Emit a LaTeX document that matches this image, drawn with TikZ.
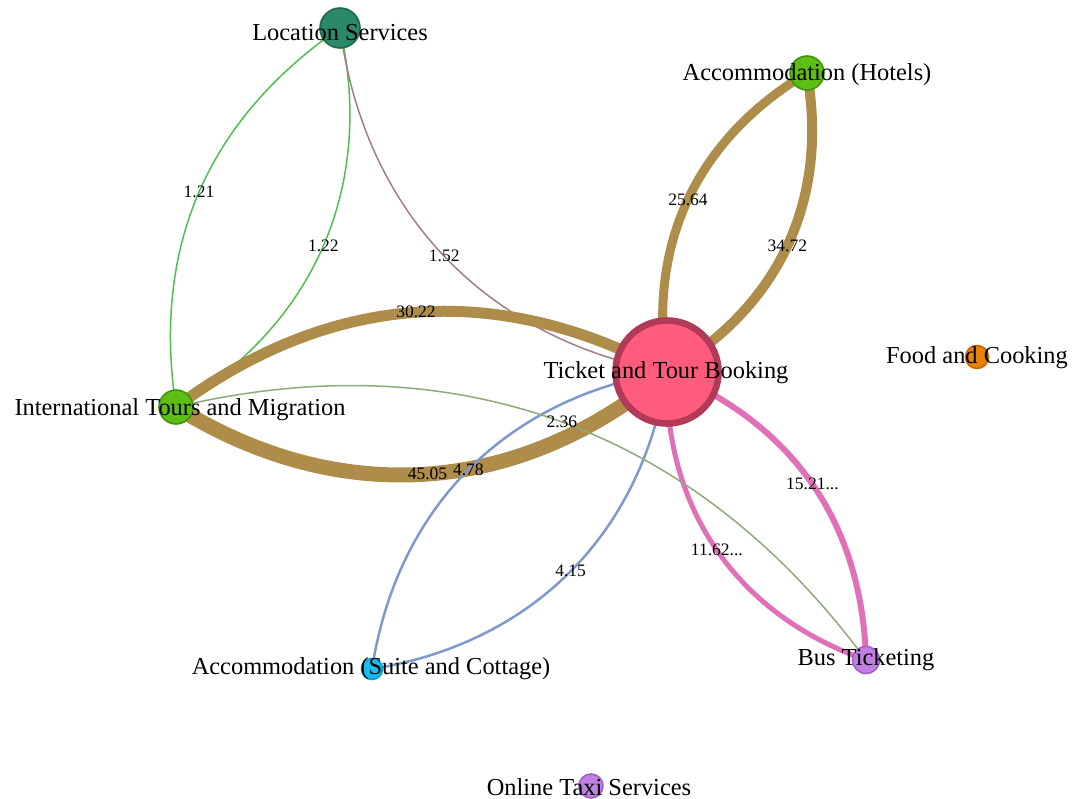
\documentclass[tikz,border=0pt]{standalone}
\usepackage{fontspec}
\setmainfont{Liberation Serif}
\usetikzlibrary{backgrounds}
\definecolor{locF}{RGB}{44,136,106}
\definecolor{locB}{RGB}{30,104,80}
\definecolor{grnF}{RGB}{94,190,20}
\definecolor{grnB}{RGB}{62,150,10}
\definecolor{tbF}{RGB}{255,92,125}
\definecolor{tbB}{RGB}{176,58,88}
\definecolor{fcF}{RGB}{232,130,12}
\definecolor{fcB}{RGB}{200,105,5}
\definecolor{suF}{RGB}{22,190,240}
\definecolor{suB}{RGB}{12,155,210}
\definecolor{puF}{RGB}{192,128,226}
\definecolor{puB}{RGB}{160,96,200}
\definecolor{eGreen}{RGB}{80,190,80}
\definecolor{eMauve}{RGB}{160,125,135}
\definecolor{eTan}{RGB}{174,141,74}
\definecolor{eBlue}{RGB}{128,153,204}
\definecolor{ePink}{RGB}{224,112,184}
\definecolor{eGG}{RGB}{143,170,122}
\begin{document}
\begin{tikzpicture}[x=0.5pt,y=-0.5pt,
  vtx/.style={circle,inner sep=0pt,minimum size=#1,line width=0.8pt},
  lbl/.style={font=\fontsize{12.2}{14}\selectfont,text=black,inner sep=0pt},
  elbl/.style={font=\fontsize{8.75}{10}\selectfont,text=black,inner sep=0pt},
  edge/.style={line cap=round}]
\path[use as bounding box] (0,0) rectangle (1073,799);
% vertices
\node[vtx=20pt,fill=locF,draw=locB] (ls) at (340,28) {};
\node[vtx=17pt,fill=grnF,draw=grnB] (ho) at (807,73) {};
\node[vtx=51.5pt,fill=tbF,draw=tbB,line width=3.3pt] (tb) at (667,372) {};
\node[vtx=17pt,fill=grnF,draw=grnB] (it) at (176,407) {};
\node[vtx=11.5pt,fill=fcF,draw=fcB] (fc) at (977,357) {};
\node[vtx=10.5pt,fill=suF,draw=suB] (su) at (372,669) {};
\node[vtx=13.5pt,fill=puF,draw=puB] (bt) at (866,660) {};
\node[vtx=12pt,fill=puF,draw=puB] (tx) at (591,786) {};
% vertex labels
\node[lbl] (lsT) at (340,33) {Location Services};
\node[lbl] (hoT) at (807,75) {Accommodation (Hotels)};
\node[lbl] (tbT) at (666,373) {Ticket and Tour Booking};
\node[lbl] (itT) at (180,410) {International Tours and Migration};
\node[lbl] (fcT) at (977,358) {Food and Cooking};
\node[lbl] (suT) at (371,669) {Accommodation (Suite and Cottage)};
\node[lbl] (btT) at (866,660) {Bus Ticketing};
\node[lbl] (txT) at (589,787) {Online Taxi Services};
% edges
\begin{scope}[on background layer]
\draw[edge,eGreen,line width=0.75pt] (ls.center) to[bend right=32] node[elbl]{1.21} (it.center);
\draw[edge,eGreen,line width=0.75pt] (ls.center) to[bend left=36] node[elbl]{1.22} (it.center);
\draw[edge,eMauve,line width=0.75pt] (ls.center) to[bend right=36] node[elbl]{1.52} (tb.center);
\draw[edge,eTan,line width=5.5pt] (tb.center) to[bend right=32.5] node[elbl]{30.22} (it.center);
\draw[edge,eTan,line width=7.5pt] (tb.center) to[bend left=36] node[elbl]{45.05} (it.center);
\draw[edge,eTan,line width=4.5pt] (tb.center) to[bend left=34] node[elbl]{25.64} (ho.center);
\draw[edge,eTan,line width=5pt] (tb.center) to[bend right=35] node[elbl]{34.72} (ho.center);
\draw[edge,eBlue,line width=1.25pt] (tb.center) to[bend right=36] node[elbl]{4.78} (su.center);
\draw[edge,eBlue,line width=1.25pt] (tb.center) to[bend left=36] node[elbl]{4.15} (su.center);
\draw[edge,ePink,line width=3pt] (tb.center) to[bend left=33] node[elbl]{15.21...} (bt.center);
\draw[edge,ePink,line width=2.5pt] (tb.center) to[bend right=36] node[elbl]{11.62...} (bt.center);
\draw[edge,eGG,line width=0.75pt] (it.center) to[bend left=33.5] node[elbl]{2.36} (bt.center);
\end{scope}
\end{tikzpicture}
\end{document}
